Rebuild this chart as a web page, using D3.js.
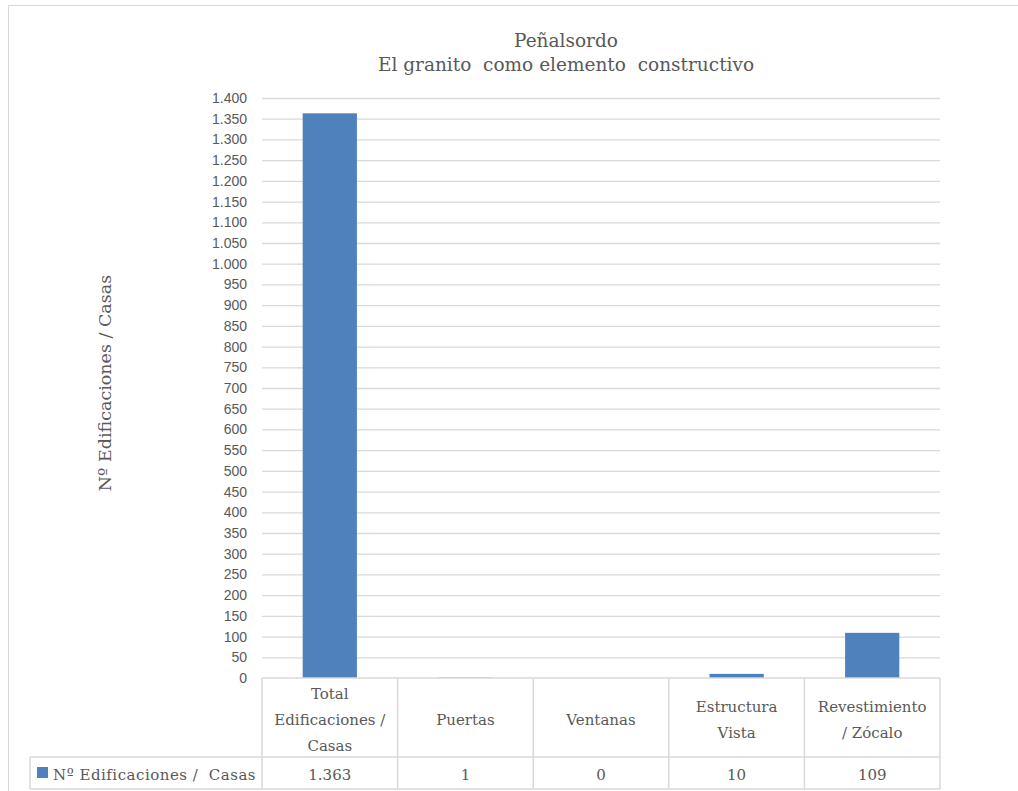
<!DOCTYPE html>
<html><head><meta charset="utf-8">
<script src="https://cdn.jsdelivr.net/npm/d3@7"></script>
<style>body{margin:0;background:#fff}svg{display:block}</style>
</head><body>
<svg id="c" width="1018" height="791"></svg>
<script>
const categories = [["Total","Edificaciones /","Casas"],["Puertas"],["Ventanas"],["Estructura","Vista"],["Revestimiento","/ Zócalo"]];
const values = [1363, 1, 0, 10, 109];
const valueLabels = ["1.363","1","0","10","109"];
const seriesName = "Nº Edificaciones /  Casas";
const titleLines = ["Peñalsordo","El granito  como elemento  constructivo"];
const yLabel = "Nº Edificaciones / Casas";
const yMax = 1400, yStep = 50;

(function(){
const svg = d3.select("#c");
const serif = "DejaVu Serif";
const sans = "Liberation Sans";
const txt = "#595959", grid = "#d9d9d9", barColor = "#4f81bd";

svg.append("rect").attr("x",8.5).attr("y",5.5).attr("width",1020).attr("height",800)
  .attr("fill","none").attr("stroke","#d9d9d9");

const pL = 262, pR = 940, pT = 98, pB = 678;
const x = d3.scaleBand().domain(d3.range(values.length)).range([pL,pR]).paddingInner(0.6).paddingOuter(0.3);
const xc = d3.scaleBand().domain(d3.range(values.length)).range([pL,pR]);
const y = d3.scaleLinear().domain([0,yMax]).range([pB,pT]);
const fmt = d3.formatLocale({decimal:",",thousands:".",grouping:[3],currency:["","€"]}).format(",d");
const ticks = d3.range(0,yMax+1,yStep);

svg.append("g").selectAll("line").data(ticks.filter(t=>t>0)).join("line")
  .attr("x1",pL).attr("x2",pR).attr("y1",d=>y(d)+0.5).attr("y2",d=>y(d)+0.5)
  .attr("stroke",grid).attr("stroke-width",1.3);

const ya = svg.append("g").attr("transform",`translate(${pL},0)`)
  .call(d3.axisLeft(y).tickValues(ticks).tickFormat(fmt).tickSize(0).tickPadding(15));
ya.select(".domain").remove();
ya.attr("font-family",sans).attr("font-size",14);
ya.selectAll("text").attr("fill",txt);

svg.append("g").selectAll("rect").data(values).join("rect")
  .attr("x",(d,i)=>x(i)).attr("width",x.bandwidth())
  .attr("y",d=>y(d)).attr("height",d=>pB-y(d)).attr("fill",barColor);

const rowMid = 757, rowBot = 789, legLeft = 30;
const tg = svg.append("g").attr("stroke",grid).attr("stroke-width",1.5);
tg.append("line").attr("x1",pL).attr("x2",pR).attr("y1",pB).attr("y2",pB);
tg.append("line").attr("x1",legLeft).attr("x2",pR).attr("y1",rowMid).attr("y2",rowMid);
tg.append("line").attr("x1",legLeft).attr("x2",pR).attr("y1",rowBot).attr("y2",rowBot);
tg.append("line").attr("x1",legLeft).attr("x2",legLeft).attr("y1",rowMid).attr("y2",rowBot);
tg.selectAll("line.v").data(d3.range(values.length+1)).join("line").attr("class","v")
  .attr("x1",i=>i<values.length?xc(i):pR).attr("x2",i=>i<values.length?xc(i):pR)
  .attr("y1",pB).attr("y2",rowBot);

function t(parent, s, xx, yy, size, anchor){
  return parent.append("text").attr("x",xx).attr("y",yy)
    .attr("font-family",serif).attr("font-size",size).attr("fill",txt)
    .attr("text-anchor",anchor||"middle").text(s);
}

categories.forEach((lines,i)=>{
  const cx = xc(i)+xc.bandwidth()/2;
  const lh = 26;
  const c0 = (pB+rowMid)/2 + 2 - (lines.length-1)*lh/2;
  lines.forEach((l,j)=>{ t(svg,l,cx,c0+j*lh,15).attr("dy","0.35em"); });
  t(svg,valueLabels[i],cx,(rowMid+rowBot)/2+2,15).attr("dy","0.35em");
});

svg.append("rect").attr("x",37).attr("y",767).attr("width",11).attr("height",11).attr("fill",barColor);
t(svg,seriesName,53,(rowMid+rowBot)/2+2,15,"start").attr("dy","0.35em")
  .attr("letter-spacing",0.5).style("white-space","pre");

titleLines.forEach((l,i)=>{ t(svg,l,566,47+i*24,18.5).style("white-space","pre"); });

t(svg,yLabel,0,0,17.5).attr("transform","translate(111,383) rotate(-90)");
})();
</script>
</body></html>
